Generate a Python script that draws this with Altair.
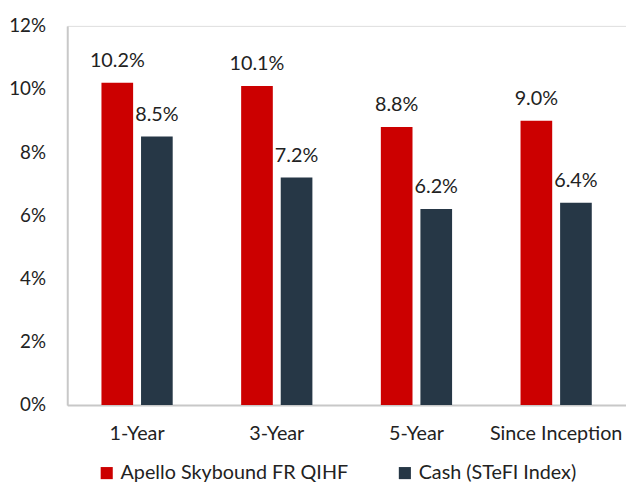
import altair as alt
import pandas as pd

categories = ["1-Year", "3-Year", "5-Year", "Since Inception"]
series_names = ["Apello Skybound FR QIHF", "Cash (STeFI Index)"]
fund_values = [10.2, 10.1, 8.8, 9.0]
cash_values = [8.5, 7.2, 6.2, 6.4]
colors = ["#CC0000", "#263746"]

rows = []
for c, f, k in zip(categories, fund_values, cash_values):
    rows.append({"period": c, "series": series_names[0], "value": f / 100, "label": f"{f:.1f}%"})
    rows.append({"period": c, "series": series_names[1], "value": k / 100, "label": f"{k:.1f}%"})
df = pd.DataFrame(rows)

FONT = "Lato"

x = alt.X("period:N", sort=categories, title=None,
          scale=alt.Scale(paddingInner=0.49, paddingOuter=0.245),
          axis=alt.Axis(labelAngle=0, ticks=False, labelPadding=19, labelFontSize=20,
                        labelColor="#222222", domainColor="#c8c8c8", domainWidth=2, labelFont=FONT))
xo = alt.XOffset("series:N", sort=series_names,
                 scale=alt.Scale(paddingInner=0.2, paddingOuter=0))
y = alt.Y("value:Q", title=None,
          scale=alt.Scale(domain=[0, 0.12], nice=False),
          axis=alt.Axis(format=".0%", values=[0, 0.02, 0.04, 0.06, 0.08, 0.10, 0.12],
                        grid=False, ticks=False, labelPadding=22, labelFontSize=19,
                        labelColor="#222222", domainColor="#c8c8c8", domainWidth=2, labelFont=FONT))

base = alt.Chart(df)

bars = base.mark_bar().encode(
    x=x, xOffset=xo, y=y,
    color=alt.Color("series:N", sort=series_names, title=None,
                    scale=alt.Scale(domain=series_names, range=colors),
                    legend=alt.Legend(orient="none", legendX=30, legendY=443, direction="horizontal",
                                      symbolType="square", symbolSize=150, symbolStrokeWidth=0,
                                      labelFontSize=20, labelFont=FONT, labelColor="#222222",
                                      columnPadding=47, symbolOffset=0, labelOffset=4,
                                      labelLimit=400)),
)

labels = base.mark_text(baseline="bottom", dy=-12, fontSize=20, font=FONT, color="#222222").encode(
    x=x, xOffset=xo, y=y, text="label:N"
)

chart = (bars + labels).properties(
    width=566, height=384,
    padding={"left": 60, "top": 15, "right": 0, "bottom": 82},
    autosize=alt.AutoSizeParams(type="none"),
).configure_view(stroke=None).configure(background="white")

chart.save("out.html", embed_options={"renderer": "svg", "actions": False})
